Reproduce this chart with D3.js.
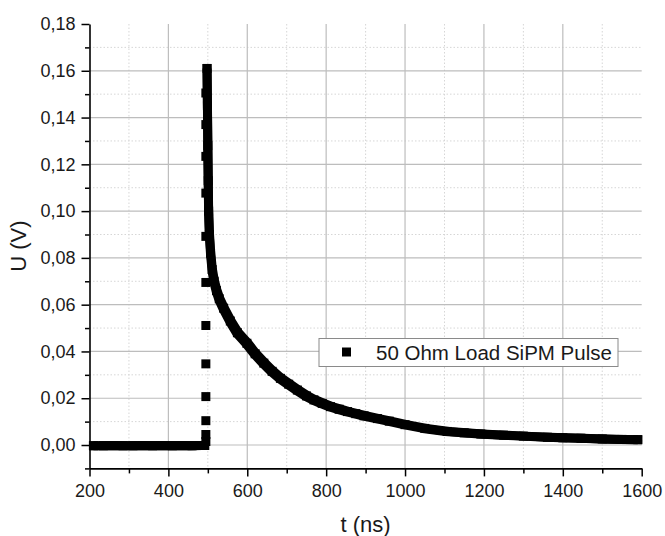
<!DOCTYPE html>
<html>
<head>
<meta charset="utf-8">
<script src="https://cdn.jsdelivr.net/npm/d3@7"></script>
<style>
  html, body { margin: 0; padding: 0; background: #fff; }
  svg { display: block; font-family: "Liberation Sans", Arial, sans-serif; }
</style>
</head>
<body>
<svg id="chart" width="665" height="536"></svg>
<script>
// ---- data ----
const seriesName = "50 Ohm Load SiPM Pulse";
// baseline before the pulse (dense samples, drawn as overlapping squares)
const baseT = [210, 235, 260, 285, 310, 335, 360, 385, 410, 435, 460, 480, 492];
const baseU = [-0.0003, -0.0003, -0.0002, -0.0003, -0.0003, -0.0002, -0.0003, -0.0002, -0.0003, -0.0002, -0.0003, -0.0002, -0.0002];
// decay after the peak (dense samples)
const decayT = [498, 499, 500, 501, 502, 504, 507, 511, 516, 522, 529, 540, 557, 575, 599, 620, 642,
  663, 684, 705, 727, 750, 769, 790, 811, 833, 854, 875, 896, 930, 960, 1000, 1050,
  1107, 1150, 1192, 1250, 1300, 1361, 1400, 1446, 1500, 1550, 1590];
const decayU = [0.161, 0.145, 0.128, 0.113, 0.100, 0.090, 0.082, 0.075, 0.070, 0.066, 0.0625, 0.0585, 0.053, 0.048, 0.0435, 0.039, 0.035,
  0.0315, 0.0285, 0.026, 0.0235, 0.021, 0.0193, 0.0178, 0.0164, 0.0153, 0.0143, 0.0134, 0.0125, 0.0113, 0.0102, 0.0087, 0.0071,
  0.0058, 0.0052, 0.0047, 0.0042, 0.0038, 0.0033, 0.0031, 0.0029, 0.0026, 0.0024, 0.0023];
// rising edge (discrete samples)
const riseT = [495, 495, 495, 495, 495, 495, 495, 495, 495, 495, 495, 495];
const riseU = [0.0015, 0.0045, 0.0104, 0.0207, 0.0347, 0.0511, 0.0695, 0.0892, 0.1077, 0.1234, 0.137, 0.1505];

const xMajorTicks = [200, 400, 600, 800, 1000, 1200, 1400, 1600];
const xMinorTicks = [300, 500, 700, 900, 1100, 1300, 1500];
const yMajorTicks = [0, 0.02, 0.04, 0.06, 0.08, 0.10, 0.12, 0.14, 0.16, 0.18];
const yMinorTicks = [-0.01, 0.01, 0.03, 0.05, 0.07, 0.09, 0.11, 0.13, 0.15, 0.17];
const yTickLabels = ["0,00", "0,02", "0,04", "0,06", "0,08", "0,10", "0,12", "0,14", "0,16", "0,18"];
const xTitle = "t (ns)";
const yTitle = "U (V)";

// ---- layout ----
const L = 89.5, R = 641.7, T = 24, B = 468.4;
const svg = d3.select("#chart");
const x = d3.scaleLinear().domain([200, 1600]).range([L, R]);
const y = d3.scaleLinear().domain([-0.01, 0.18]).range([B, T]);

// grid
const grid = svg.append("g");
grid.selectAll(".gxm").data(xMinorTicks).join("line")
  .attr("x1", d => x(d)).attr("x2", d => x(d)).attr("y1", T).attr("y2", B)
  .attr("stroke", "#d6d6d6").attr("stroke-width", 1).attr("stroke-dasharray", "1.5,2");
grid.selectAll(".gym").data(yMinorTicks.filter(d => d > -0.01)).join("line")
  .attr("x1", L).attr("x2", R).attr("y1", d => y(d)).attr("y2", d => y(d))
  .attr("stroke", "#d6d6d6").attr("stroke-width", 1).attr("stroke-dasharray", "1.5,2");
grid.selectAll(".gxM").data(xMajorTicks.filter(d => d > 200 && d < 1600)).join("line")
  .attr("x1", d => x(d)).attr("x2", d => x(d)).attr("y1", T).attr("y2", B)
  .attr("stroke", "#bdbdbd").attr("stroke-width", 1.2);
grid.selectAll(".gyM").data(yMajorTicks.filter(d => d < 0.18)).join("line")
  .attr("x1", L).attr("x2", R).attr("y1", d => y(d)).attr("y2", d => y(d))
  .attr("stroke", "#bdbdbd").attr("stroke-width", 1.2);

// data: dense runs drawn as a square "brush" swept along the samples
const SZ = 9;
const line = d3.line().x(d => x(d[0])).y(d => y(d[1]));
const runs = [baseT.map((t, i) => [t, baseU[i]]), decayT.map((t, i) => [t, decayU[i]])];
const offs = [[-2.25, -2.25], [2.25, -2.25], [-2.25, 2.25], [2.25, 2.25], [0, 0]];
const dataG = svg.append("g");
runs.forEach(run => {
  offs.forEach(o => {
    dataG.append("path").attr("d", line(run)).attr("transform", `translate(${o[0]},${o[1]})`)
      .attr("fill", "none").attr("stroke", "#000").attr("stroke-width", SZ / 2)
      .attr("stroke-linejoin", "round").attr("stroke-linecap", "square");
  });
});
const sq = d3.symbol().type(d3.symbolSquare).size(SZ * SZ);
const allPts = runs.flat().concat(riseT.map((t, i) => [t, riseU[i]]));
dataG.append("g").selectAll("path").data(allPts).join("path")
  .attr("d", sq).attr("transform", d => `translate(${x(d[0])},${y(d[1])})`).attr("fill", "#000");

// axes
const fmtY = d => yTickLabels[yMajorTicks.findIndex(v => Math.abs(v - d) < 1e-9)];
svg.append("g").attr("transform", `translate(0,${B})`)
  .call(d3.axisBottom(x).tickValues(xMajorTicks).tickFormat(d3.format("d")).tickSize(8).tickPadding(8).tickSizeOuter(0));
svg.append("g").attr("transform", `translate(0,${B})`)
  .call(d3.axisBottom(x).tickValues(xMinorTicks).tickFormat("").tickSize(5).tickSizeOuter(0))
  .select(".domain").remove();
svg.append("g").attr("transform", `translate(${L},0)`)
  .call(d3.axisLeft(y).tickValues(yMajorTicks).tickFormat(fmtY).tickSize(8).tickPadding(6).tickSizeOuter(0));
svg.append("g").attr("transform", `translate(${L},0)`)
  .call(d3.axisLeft(y).tickValues(yMinorTicks).tickFormat("").tickSize(4.5).tickSizeOuter(0))
  .select(".domain").remove();
svg.selectAll(".domain").attr("stroke", "#000").attr("stroke-width", 1.6);
svg.selectAll(".tick line").attr("stroke", "#000").attr("stroke-width", 1.5);
svg.selectAll(".tick text").attr("font-size", 18).attr("fill", "#1a1a1a")
  .attr("font-family", "'Liberation Sans', Arial, sans-serif");

// titles
svg.append("text").attr("x", (L + R) / 2).attr("y", 532).attr("text-anchor", "middle")
  .attr("font-size", 22).attr("fill", "#1a1a1a").text(xTitle);
svg.append("text").attr("transform", `translate(26,${(T + B) / 2}) rotate(-90)`)
  .attr("text-anchor", "middle").attr("font-size", 22).attr("fill", "#1a1a1a").text(yTitle);

// legend
const lg = svg.append("g");
lg.append("rect").attr("x", 319).attr("y", 338.5).attr("width", 299).attr("height", 28)
  .attr("fill", "#fff").attr("stroke", "#8a8a8a").attr("stroke-width", 1);
lg.append("path").attr("d", sq).attr("transform", "translate(346.5,352)").attr("fill", "#000");
lg.append("text").attr("x", 376).attr("y", 359.5).attr("font-size", 20.5).attr("fill", "#1a1a1a").text(seriesName);
</script>
</body>
</html>
